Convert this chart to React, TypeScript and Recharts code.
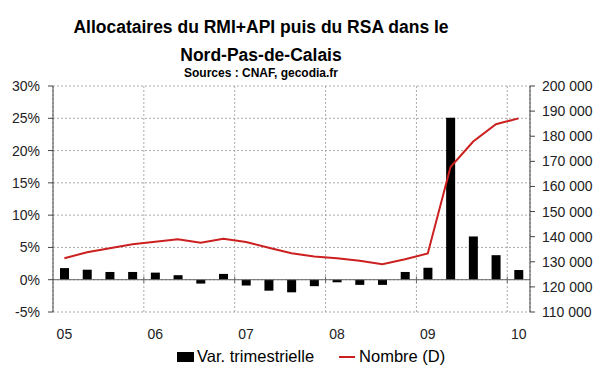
import {
  ComposedChart,
  Bar,
  Line,
  XAxis,
  YAxis,
  CartesianGrid,
  ReferenceLine,
} from "recharts";

// quarters 2005 T1 .. 2010 T1
const quarters = [
  "05T1", "05T2", "05T3", "05T4",
  "06T1", "06T2", "06T3", "06T4",
  "07T1", "07T2", "07T3", "07T4",
  "08T1", "08T2", "08T3", "08T4",
  "09T1", "09T2", "09T3", "09T4",
  "10T1",
];
const yearLabels = ["05", "06", "07", "08", "09", "10"];

// quarterly variation, in %
const variation = [
  1.8, 1.55, 1.2, 1.2, 1.1, 0.7, -0.6, 0.9, -0.9, -1.7, -1.95, -1.0, -0.4,
  -0.8, -0.8, 1.2, 1.85, 25.1, 6.7, 3.8, 1.5,
];
// number of recipients (right axis)
const nombre = [
  131400, 133800, 135400, 137000, 138000, 139000, 137600, 139200, 137900,
  135600, 133400, 132100, 131400, 130400, 129000, 131000, 133300, 167700,
  177900, 184800, 187100,
];

const leftTicks = [-5, 0, 5, 10, 15, 20, 25, 30];
const rightTicks = [110000, 120000, 130000, 140000, 150000, 160000, 170000, 180000, 190000, 200000];
const yearTicks = [0, 4, 8, 12, 16, 20];

const data = quarters.map((q, i) => ({
  q,
  pos: i + 0.5,
  variation: variation[i],
  nombre: nombre[i],
}));

const font = "Arial, 'Liberation Sans', sans-serif";

const YearTick = (props: any) => {
  const { x, y, payload } = props;
  const label = yearLabels[payload.value / 4];
  return (
    <text x={x + 11.4} y={y} dy={19} textAnchor="middle" fontSize={14} fill="#222" fontFamily={font}>
      {label}
    </text>
  );
};

const fmtThousands = (v: number) =>
  String(v).replace(/\B(?=(\d{3})+(?!\d))/g, " ");

const titleLine = (top: number, size: number): any => ({
  position: "absolute",
  left: 0,
  top,
  width: 522,
  textAlign: "center",
  fontWeight: "bold",
  fontSize: size,
  lineHeight: "20px",
  color: "#000",
  whiteSpace: "nowrap",
});

export default function App() {
  return (
    <div
      style={{
        position: "absolute",
        left: 0,
        top: 0,
        width: 600,
        height: 372,
        background: "#fff",
        fontFamily: font,
      }}
    >
      <div style={titleLine(17, 17.5)}>Allocataires du RMI+API puis du RSA dans le</div>
      <div style={titleLine(45, 17.5)}>Nord-Pas-de-Calais</div>
      <div style={titleLine(63, 12)}>Sources : CNAF, gecodia.fr</div>

      <div style={{ position: "absolute", left: 0, top: 0 }}>
        <ComposedChart
          width={600}
          height={372}
          data={data}
          margin={{ top: 86, right: 5, bottom: 30, left: 8 }}
        >
          <CartesianGrid
            yAxisId="left"
            stroke="#aaa"
            strokeDasharray="2 2"
          />
          <XAxis
            dataKey="pos"
            type="number"
            domain={[0, 21]}
            ticks={yearTicks}
            axisLine={false}
            tickLine={false}
            height={30}
            tick={<YearTick />}
            interval={0}
          />
          <YAxis
            yAxisId="left"
            domain={[-5, 30]}
            ticks={leftTicks}
            width={45}
            tickSize={5}
            tickMargin={8}
            axisLine={{ stroke: "#444" }}
            tickLine={{ stroke: "#444" }}
            tickFormatter={(v: number) => `${v}%`}
            tick={{ fontSize: 14, fill: "#222", fontFamily: font }}
            interval={0}
          />
          <YAxis
            yAxisId="right"
            orientation="right"
            domain={[110000, 200000]}
            ticks={rightTicks}
            width={65}
            tickSize={5}
            tickMargin={7}
            axisLine={{ stroke: "#444" }}
            tickLine={{ stroke: "#444" }}
            tickFormatter={fmtThousands}
            tick={{ fontSize: 14, fill: "#222", fontFamily: font }}
            interval={0}
          />
          <ReferenceLine yAxisId="left" y={0} stroke="#666" />
          {yearTicks.slice(1).map((t) => (
            <ReferenceLine
              key={t}
              yAxisId="left"
              segment={[
                { x: t, y: -0.5 },
                { x: t, y: 0.5 },
              ]}
              stroke="#666"
            />
          ))}
          <Bar
            yAxisId="left"
            dataKey="variation"
            fill="#000"
            barSize={9}
            isAnimationActive={false}
          />
          <Line
            yAxisId="right"
            dataKey="nombre"
            stroke="#cc2020"
            strokeWidth={2}
            dot={false}
            isAnimationActive={false}
          />
        </ComposedChart>
      </div>

      <div
        style={{
          position: "absolute",
          left: 177,
          top: 347,
          display: "flex",
          alignItems: "center",
          fontSize: 16.5,
          color: "#000",
          whiteSpace: "nowrap",
        }}
      >
        <span style={{ display: "inline-block", width: 17, height: 10, background: "#000", marginRight: 3 }} />
        <span>Var. trimestrielle</span>
        <span style={{ display: "inline-block", width: 16, height: 2, background: "#cc2020", marginLeft: 25, marginRight: 4 }} />
        <span>Nombre (D)</span>
      </div>
    </div>
  );
}
